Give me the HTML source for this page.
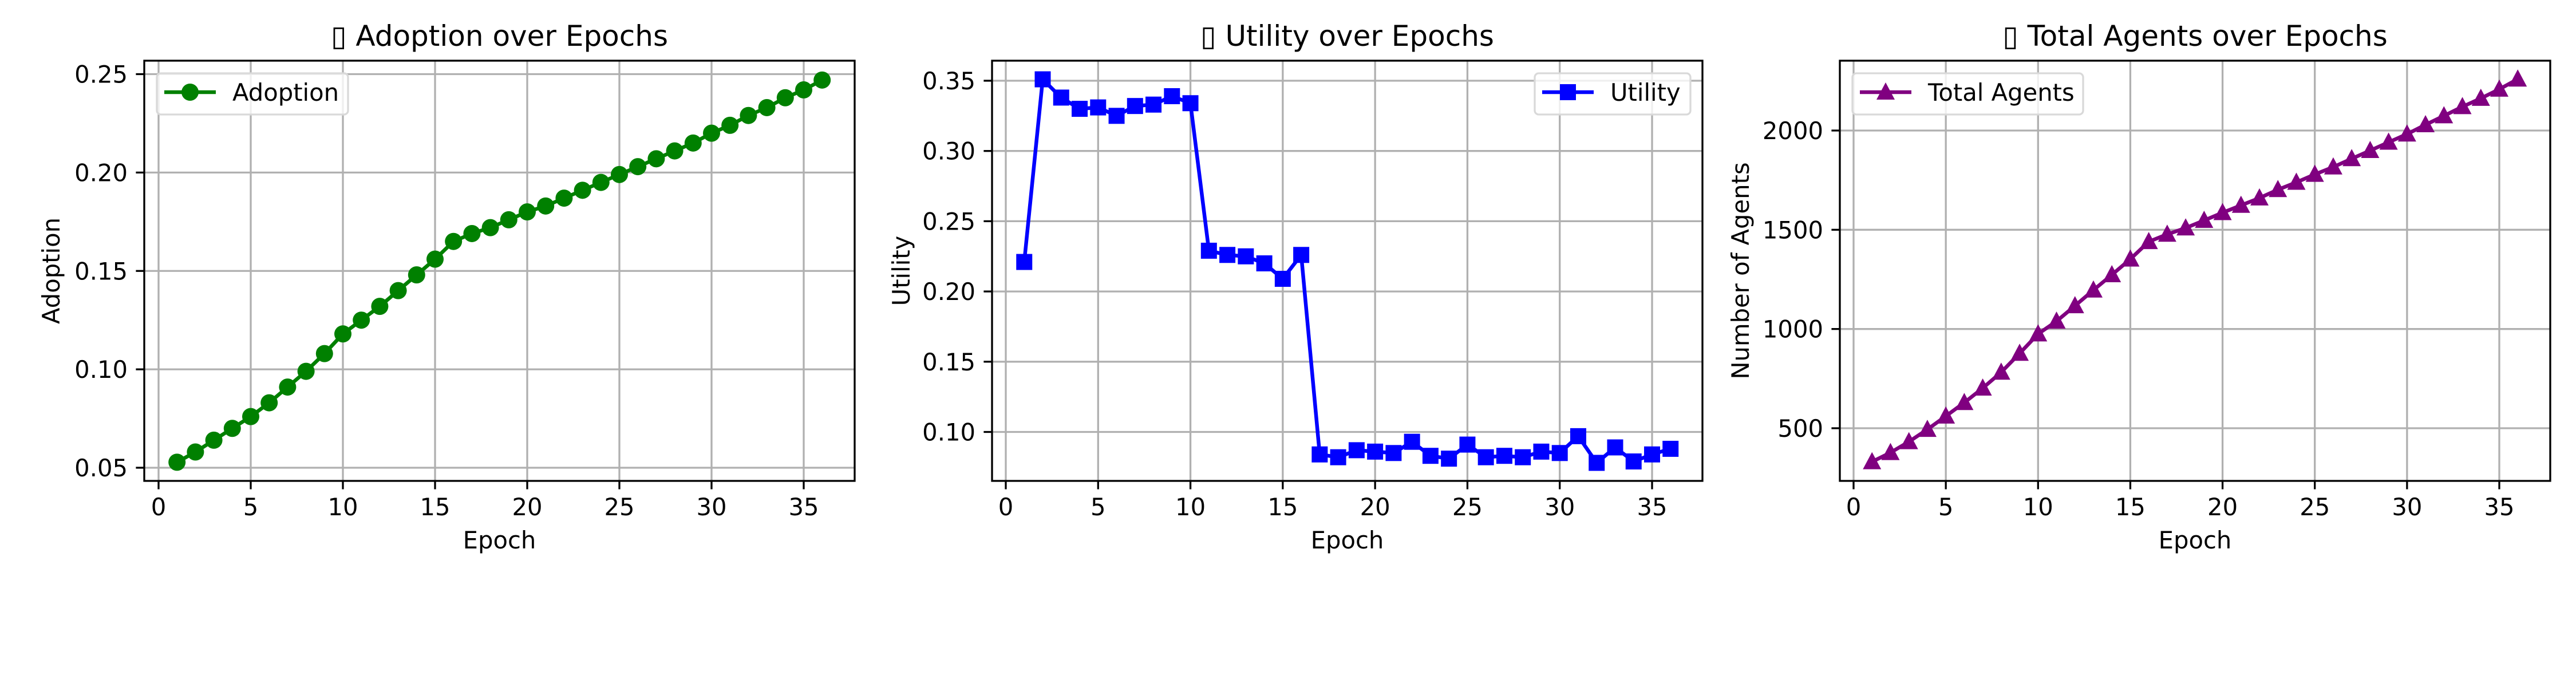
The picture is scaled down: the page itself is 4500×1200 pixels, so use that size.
<!DOCTYPE html>
<html><head><meta charset="utf-8"><style>
html,body{margin:0;padding:0;background:#fff}
svg{display:block}
text{font-family:"DejaVu Sans","Liberation Sans",sans-serif;fill:#000}
</style></head><body>
<svg id="fig" width="4500" height="1200" viewBox="0 0 4500 1200" xmlns="http://www.w3.org/2000/svg"></svg>
<script>
const epochs = [1,2,3,4,5,6,7,8,9,10,11,12,13,14,15,16,17,18,19,20,21,22,23,24,25,26,27,28,29,30,31,32,33,34,35,36];
const adoption = [0.0528,0.058,0.064,0.070,0.076,0.083,0.091,0.099,0.108,0.118,0.125,0.132,0.140,0.148,0.156,0.165,0.169,0.172,0.176,0.180,0.183,0.187,0.191,0.195,0.199,0.203,0.207,0.211,0.215,0.220,0.224,0.229,0.233,0.238,0.242,0.247];
const utility = [0.221,0.351,0.338,0.330,0.331,0.325,0.332,0.333,0.339,0.334,0.229,0.226,0.225,0.220,0.209,0.226,0.084,0.082,0.087,0.086,0.085,0.093,0.083,0.081,0.091,0.082,0.083,0.082,0.086,0.085,0.097,0.078,0.089,0.079,0.084,0.088];
const agents = [331,377,432,494,561,629,702,782,877,975,1039,1117,1196,1273,1352,1440,1477,1509,1547,1586,1623,1660,1702,1739,1779,1816,1858,1899,1941,1982,2029,2074,2120,2162,2208,2259];
const xTicks = [0,5,10,15,20,25,30,35];
const adoptionTicks = [0.05,0.10,0.15,0.20,0.25];
const utilityTicks = [0.10,0.15,0.20,0.25,0.30,0.35];
const agentTicks = [500,1000,1500,2000];

const NS="http://www.w3.org/2000/svg";
const svg=document.getElementById('fig');
function mk(tag,attrs,parent){const e=document.createElementNS(NS,tag);for(const k in attrs)e.setAttribute(k,attrs[k]);(parent||svg).appendChild(e);return e;}

const panels=[
 {key:'adoption',L:252,R:1493,T:106,B:840,x0:277,x35:1404,ya:[0.25,129.5],yb:[0.05,817],vals:adoption,ticks:adoptionTicks,fmt:v=>v.toFixed(2),color:'#008000',marker:'circle',title:'\u25AF Adoption over Epochs',ylabel:'Adoption',ylx:89,legend:'Adoption',lg:[274,608]},
 {key:'utility',L:1733,R:2974,T:106,B:840,x0:1757,x35:2886,ya:[0.35,141],yb:[0.10,754.5],vals:utility,ticks:utilityTicks,fmt:v=>v.toFixed(2),color:'#0000ff',marker:'square',title:'\u25AF Utility over Epochs',ylabel:'Utility',ylx:1574,legend:'Utility',lg:[2681,2953]},
 {key:'agents',L:3214,R:4455,T:106,B:840,x0:3238,x35:4366,ya:[2000,228],yb:[500,748],vals:agents,ticks:agentTicks,fmt:v=>String(v),color:'#800080',marker:'triangle',title:'\u25AF Total Agents over Epochs',ylabel:'Number of Agents',ylx:3040,legend:'Total Agents',lg:[3236,3639]}
];

function drawMarker(g,type,cx,cy,color){
  let m;
  if(type==='circle') m=mk('circle',{cx:cx,cy:cy,r:15,fill:color},g);
  else if(type==='square') m=mk('rect',{x:cx-14,y:cy-14,width:28,height:28,fill:color},g);
  else m=mk('polygon',{points:`${cx},${cy-17} ${cx+16},${cy+13} ${cx-16},${cy+13}`,fill:color},g);
  return m;
}

panels.forEach(p=>{
  const g=mk('g',{});
  
  
  const xs=v=>p.x0+(v/35)*(p.x35-p.x0);
  const ys=v=>p.ya[1]+(p.ya[0]-v)/(p.ya[0]-p.yb[0])*(p.yb[1]-p.ya[1]);
  xTicks.forEach(t=>{const l=mk('line',{x1:xs(t),x2:xs(t),y1:p.T,y2:p.B,stroke:'#b0b0b0','stroke-width':3.3},g);
    
    });
  p.ticks.forEach(t=>{const l=mk('line',{x1:p.L,x2:p.R,y1:ys(t),y2:ys(t),stroke:'#b0b0b0','stroke-width':3.3},g);
    
    });
  const pts=epochs.map((e,i)=>xs(e)+','+ys(p.vals[i])).join(' ');
  const line=mk('polyline',{points:pts,fill:'none',stroke:p.color,'stroke-width':6.5,'stroke-linejoin':'round'},g);
  
  
  epochs.forEach((e,i)=>{const m=drawMarker(g,p.marker,xs(e),ys(p.vals[i]),p.color);
    
    });
  const fr=mk('rect',{x:p.L,y:p.T,width:p.R-p.L,height:p.B-p.T,fill:'none',stroke:'#000','stroke-width':3.3},g);
  
  
  xTicks.forEach(t=>{mk('line',{x1:xs(t),x2:xs(t),y1:p.B,y2:p.B+14.6,stroke:'#000','stroke-width':3.3},g);
    const tx=mk('text',{x:xs(t),y:p.B+60,'font-size':41.7,'text-anchor':'middle'},g);tx.textContent=t;
    
    });
  p.ticks.forEach(t=>{mk('line',{x1:p.L-14.6,x2:p.L,y1:ys(t),y2:ys(t),stroke:'#000','stroke-width':3.3},g);
    const tx=mk('text',{x:p.L-29,y:ys(t)+15,'font-size':41.7,'text-anchor':'end'},g);tx.textContent=p.fmt(t);
    
    });
  const ti=mk('text',{x:(p.L+p.R)/2,y:80,'font-size':50,'text-anchor':'middle'},g);ti.textContent=p.title;
  
  
  const xl=mk('text',{x:(p.L+p.R)/2,y:958,'font-size':41.7,'text-anchor':'middle'},g);xl.textContent='Epoch';
  
  
  const cy=(p.T+p.B)/2;
  const yl=mk('text',{x:p.ylx+15,y:cy,'font-size':41.7,'text-anchor':'middle',transform:`rotate(-90 ${p.ylx+15} ${cy})`},g);yl.textContent=p.ylabel;
  
  
  const lg=mk('g',{},g);
  
  
  mk('rect',{x:p.lg[0],y:128,width:p.lg[1]-p.lg[0],height:72,rx:7,fill:'#fff','fill-opacity':0.8,stroke:'#d9d9d9','stroke-width':3.3},lg);
  const lx=p.lg[0]+13;
  mk('line',{x1:lx,x2:lx+90,y1:161,y2:161,stroke:p.color,'stroke-width':6.5},lg);
  drawMarker(lg,p.marker,lx+45,161,p.color);
  const lt=mk('text',{x:p.lg[0]+132,y:176,'font-size':41.7},lg);lt.textContent=p.legend;
});
</script>
</body></html>
